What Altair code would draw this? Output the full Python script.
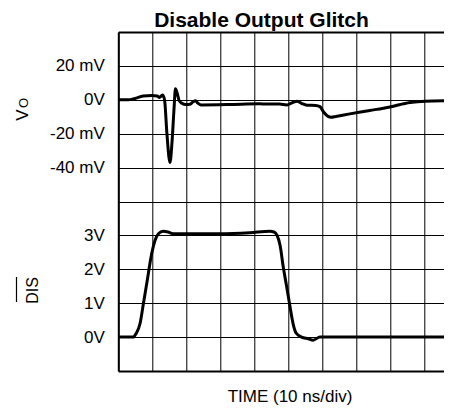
import altair as alt
import pandas as pd

# ---- data (time in ns, 10 ns per division) ----
vo_t = [0, 2.85, 4.9, 7.3, 9.9, 11.4, 12.1, 13.0, 13.6, 14.3, 15.2, 15.8, 16.4, 16.8,
        17.3, 17.9, 18.7, 19.9, 21.1, 22.0, 22.7, 23.4, 24.3, 32.6, 41.4, 47.4, 49.6,
        51.1, 52.6, 54.0, 55.5, 58.1, 59.3, 60.5, 61.7, 62.6, 64.0, 68.1, 74.0, 79.9,
        85.8, 90.2, 98.1]
vo_mv = [0, 0, 0.8, 2.2, 2.5, 2.3, 1.4, 2.8, 0, -20, -37, -25, -5, 6.5,
         4, -0.5, -2, -2.8, -2.6, -1.2, -0.5, -2, -3, -2.8, -2.4, -2.5, -3,
         -1.8, -0.8, -2.2, -3.2, -3.3, -4, -7.5, -9.8, -10.3, -9.8, -8.3, -6.3, -4.2,
         -1.6, -0.8, -0.5]

dis_t = [0, 4.4, 5.2, 6.4, 7.4, 8.4, 9.8, 10.8, 11.8, 13.2, 14.6, 16.2, 29.9, 38.7,
         44.6, 45.8, 46.7, 47.6, 48.5, 49.5, 50.5, 51.4, 52.3, 53.9, 55.9, 57.3, 59.3, 98.1]
dis_v = [0, 0, 0.1, 0.4, 1.0, 1.6, 2.45, 2.85, 3.05, 3.12, 3.1, 3.05, 3.05, 3.08,
         3.12, 3.1, 3.0, 2.7, 2.08, 1.5, 0.9, 0.4, 0.12, 0, -0.05, -0.09, 0, 0]

vo_tick_mv = [20, 0, -20, -40]
vo_tick_labels = ["20 mV", "0V", "-20 mV", "-40 mV"]
dis_tick_v = [3, 2, 1, 0]
dis_tick_labels = ["3V", "2V", "1V", "0V"]

x_grid = [0, 10, 20, 30, 40, 50, 60, 70, 80, 90]
y_grid = [0, 1, 2, 3, 4, 5, 6, 7, 8, 9, 10]

# screen divisions: V_O centred on division 8 (20 mV/div), DIS 0V on division 1 (1 V/div)
vo = pd.DataFrame({"t": vo_t, "div": [8 + v / 20 for v in vo_mv], "trace": "VO"})
dis = pd.DataFrame({"t": dis_t, "div": [1 + v for v in dis_v], "trace": "DIS"})
df = pd.concat([vo, dis], ignore_index=True)

pairs = [(8 + m / 20, l) for m, l in zip(vo_tick_mv, vo_tick_labels)] + \
        [(1 + v, l) for v, l in zip(dis_tick_v, dis_tick_labels)]
expr = "''"
for val, lab in pairs:
    expr = f"datum.value == {val:g} ? '{lab}' : ({expr})"

FONT = "Liberation Sans"

x_enc = alt.X("t:Q", scale=alt.Scale(domain=[0, 95.8], nice=False, zero=False),
              axis=alt.Axis(values=x_grid, labels=False, ticks=False, domain=False,
                            title=None, grid=True, gridColor="black", gridWidth=1,
                            gridOpacity=1))
y_enc = alt.Y("div:Q", scale=alt.Scale(domain=[0, 10], nice=False, zero=False),
              axis=alt.Axis(values=y_grid, labelExpr=expr, ticks=False, title=None,
                            labelPadding=14, labelFont=FONT, labelFontSize=17,
                            labelColor="black", labelOverlap=False, labelBound=False,
                            domain=True, domainColor="black", domainWidth=2,
                            grid=True, gridColor="black", gridOpacity=1,
                            gridWidth={"condition": {"test": "datum.value === 0 || datum.value === 10",
                                                     "value": 2}, "value": 1}))

lines = alt.Chart(df).mark_line(color="black", strokeWidth=3, interpolate="monotone",
                                clip=True).encode(x=x_enc, y=y_enc, detail="trace:N")


def label(txt, x, y, size, angle=0, bold=False, align="center", baseline="alphabetic"):
    return alt.Chart(pd.DataFrame({"txt": [txt]})).mark_text(
        font=FONT, fontSize=size, fontWeight="bold" if bold else "normal",
        angle=angle, align=align, baseline=baseline, color="black"
    ).encode(text="txt:N", x=alt.value(x), y=alt.value(y))


title = label("Disable Output Glitch", 143.2, -5.2, 21, bold=True)
v_lab = label("V", -90.3, 83, 17, angle=270)
o_lab = label("O", -90.3, 71, 13, angle=270)
dis_lab = label("DIS", -80.8, 258.5, 16, angle=270)
time_lab = label("TIME (10 ns/div)", 171.7, 369.6, 17)
overline = alt.Chart(pd.DataFrame({"k": [0]})).mark_rule(color="black", strokeWidth=1.2).encode(
    x=alt.value(-101.8), y=alt.value(245), y2=alt.value(270))

chart = alt.layer(lines, title, v_lab, o_lab, dis_lab, time_lab, overline).properties(
    width=325.7, height=339,
    autosize=alt.AutoSizeParams(type="none"),
    padding={"left": 110.3, "top": 24, "right": 0, "bottom": 34},
).configure_view(stroke=None)

chart.save("out.html", embed_options={"renderer": "svg", "actions": False})
